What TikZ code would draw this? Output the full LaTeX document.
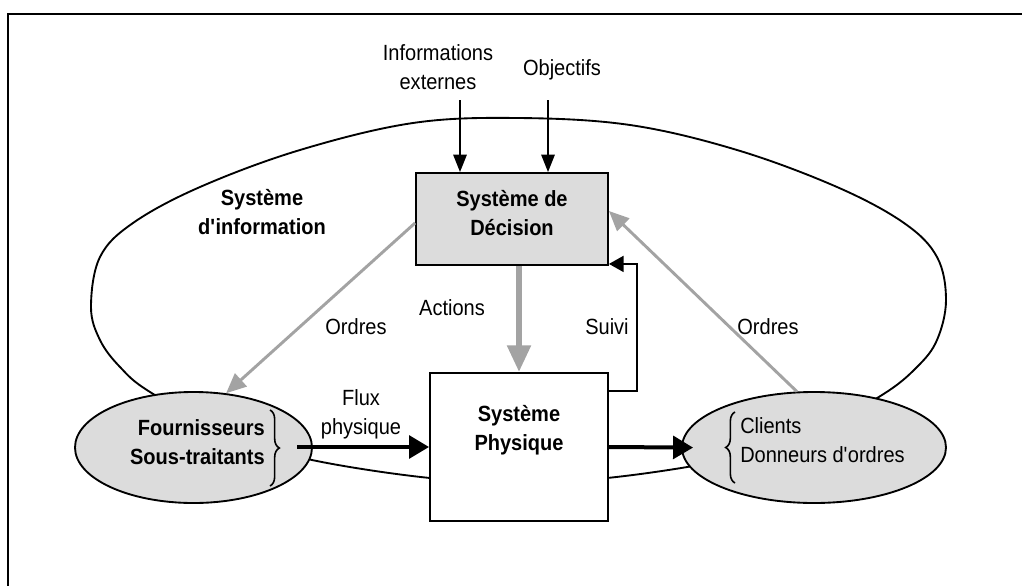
\documentclass[tikz,border=0pt]{standalone}
\usepackage{fontspec}
\setmainfont{Liberation Sans}[FakeStretch=0.91]
\usetikzlibrary{arrows.meta,shapes.geometric,calc,decorations.pathreplacing}
\definecolor{boxgray}{HTML}{DCDCDC}
\definecolor{arrowgray}{HTML}{A3A3A3}

\begin{document}
\begin{tikzpicture}[x=0.75pt,y=-0.75pt,
  lbl/.style={font=\fontsize{16.5}{21.5}\selectfont, align=center, inner sep=0pt},
  blbl/.style={font=\fontsize{16.5}{21.5}\selectfont\bfseries, align=center, inner sep=0pt},
  decbox/.style={draw, line width=1.4pt, fill=boxgray, minimum width=144pt, minimum height=69pt, inner sep=0pt},
  phybox/.style={draw, line width=1.4pt, fill=white, minimum width=133.5pt, minimum height=111pt, inner sep=0pt},
  actor/.style={draw, ellipse, line width=1.4pt, fill=boxgray, minimum height=83.25pt, inner sep=0pt},
  thin/.style={line width=1.3pt, -{Triangle[length=13pt,width=10pt]}},
  flow/.style={line width=3pt, -{Triangle[length=15pt,width=17pt]}},
  order/.style={draw=arrowgray, line width=2.2pt, -{Triangle[length=15pt,width=13pt]}},
  action/.style={draw=arrowgray, line width=4.5pt, -{Triangle[length=20pt,width=17pt]}},
  brc/.style={decorate, decoration={brace, amplitude=7pt}, line width=1.2pt}]

\useasboundingbox (0,0) rectangle (1022,586);

% outer frame
\draw[line width=1.6pt] (1022,14) -- (8,14) -- (8,586);

% information system boundary
\draw[line width=1.4pt] plot[smooth cycle, tension=0.6] coordinates {
  (518,118) (413,123) (300,150) (200,187) (133,223) (100,257) (91,307)
  (100,340) (120,367) (150,392) (230,436) (312,460) (430,478) (518,481)
  (607,478) (725,460) (807,436) (882,395) (917,367) (937,340) (946,300)
  (937,257) (904,223) (837,187) (737,150) (630,125)};

% boxes and actors
\node[decbox] (dec) at (512,219) {};
\node[phybox] (phy) at (519,447) {};
\node[actor, minimum width=177.75pt] (fou) at (193.5,447.5) {};
\node[actor, minimum width=198pt] (cli) at (814,447.5) {};

% texts
\node[blbl] (dectxt) at (512,213) {Système de\\Décision};
\node[blbl] (phytxt) at (519,430) {Système\\Physique};
\node[blbl, align=right, anchor=east] (foutxt) at (265,442) {Fournisseurs\\Sous-traitants};
\node[lbl, align=left, anchor=west] (clitxt) at (740,440) {Clients\\Donneurs d\textquotesingle ordres};
\node[blbl] (sitxt) at (262,212) {Système\\d\textquotesingle information};
\node[lbl] (infotxt) at (438,67) {Informations\\externes};
\node[lbl] (objtxt) at (562,70) {Objectifs};
\node[lbl] (ordl) at (356,327) {Ordres};
\node[lbl] (ordr) at (768,327) {Ordres};
\node[lbl] (acttxt) at (452,308) {Actions};
\node[lbl] (suitxt) at (607,327) {Suivi};
\node[lbl] (fluxtxt) at (361,414) {Flux\\physique};

% braces
\coordinate (fb1) at (270,410);
\coordinate (fb2) at (270,486);
\draw[brc] (fb1) -- (fb2);
\coordinate (cb1) at (735,483);
\coordinate (cb2) at (735,412);
\draw[brc] (cb1) -- (cb2);

% external inputs
\coordinate (infosrc) at (460,100);
\coordinate (objsrc) at (548,100);
\draw[thin] (infosrc) -- (infosrc |- dec.north);
\draw[thin] (objsrc) -- (objsrc |- dec.north);

% orders
\draw[order] ($(dec.west)+(0,4)$) -- (fou.59.5);
\draw[order] (cli.107) -- ($(dec.east)+(0,-8)$);

% actions
\draw[action] (phy.north |- dec.south) -- (phy.north);

% follow-up loop
\coordinate (suivistart) at ($(phy.north east)+(0,19)$);
\draw[line width=1.3pt, -{Triangle[length=11pt,width=12pt]}]
  (suivistart) -- ++(28,0) |- ($(dec.south east)+(0,-2)$);

% physical flows
\coordinate (fluxsrc) at (297,447);
\draw[flow] (fluxsrc) -- (phy.west);
\draw[flow, shorten >=-9pt] (phy.east) -- (cli.west);

\end{tikzpicture}
\end{document}
